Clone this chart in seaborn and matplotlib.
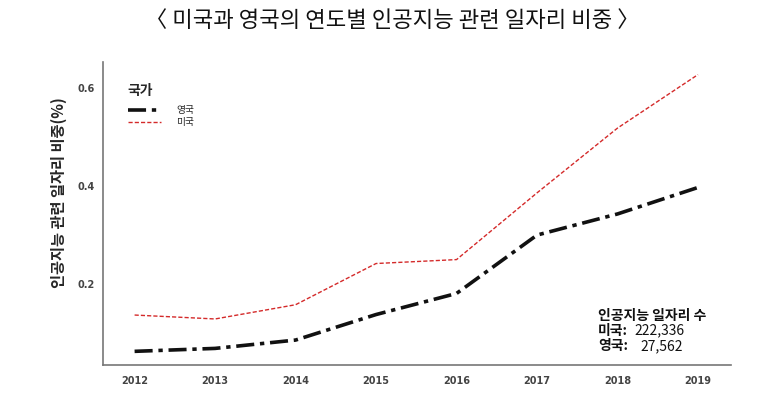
import matplotlib
matplotlib.use("Agg")
import matplotlib.pyplot as plt
from matplotlib.lines import Line2D
import numpy as np
import pandas as pd
import seaborn as sns

years = [2012, 2013, 2014, 2015, 2016, 2017, 2018, 2019]
uk_share = [0.063, 0.069, 0.086, 0.138, 0.181, 0.300, 0.343, 0.397]
us_share = [0.137, 0.129, 0.158, 0.242, 0.250, 0.386, 0.518, 0.627]
countries = ["영국", "미국"]

df = pd.DataFrame({
    "year": years * 2,
    "share": uk_share + us_share,
    "country": ["영국"] * len(years) + ["미국"] * len(years),
})

sns.set_theme(style="white")
plt.rcParams['font.family'] = ['Noto Sans CJK KR', 'DejaVu Sans']

fig = plt.figure(figsize=(7.76, 3.99), dpi=100)
ax = fig.add_axes([0.133, 0.085, 0.809, 0.76])

palette = {"영국": "#111111", "미국": "#d42a2a"}
dashes = {"영국": (5, 1.6, 1.2, 1.6), "미국": (3, 1.5)}
sns.lineplot(data=df, x="year", y="share", hue="country", style="country",
             hue_order=countries, style_order=countries,
             palette=palette, dashes=dashes, ax=ax, legend=False)
lines = ax.get_lines()
lines[0].set_linewidth(2.6)
lines[1].set_linewidth(1.0)

ax.set_xlim(2011.61, 2019.41)
ax.set_ylim(0.035, 0.653)
ax.set_xticks(years)
ax.set_yticks([0.2, 0.4, 0.6])
ax.set_yticklabels(["0.2", "0.4", "0.6"])
ax.tick_params(axis="both", labelsize=7, colors="#444444", length=2, width=0.8, pad=4)
for lab in ax.get_xticklabels() + ax.get_yticklabels():
    lab.set_fontweight("bold")
    lab.set_fontfamily("DejaVu Sans")
ax.tick_params(axis="x", pad=6)

sns.despine(ax=ax)
for side in ["left", "bottom"]:
    ax.spines[side].set_color("#777777")
    ax.spines[side].set_linewidth(1.2)

ax.set_xlabel("")
ax.set_ylabel("인공지능 관련 일자리 비중(%)", fontsize=11, fontweight="bold")
ax.yaxis.set_label_coords(-0.058, 0.57)

# legend handles rebuilt from the plotted line styles
handles = [Line2D([0], [0], color=palette[c], linestyle=(0, dashes[c]),
                  linewidth=lines[i].get_linewidth()) for i, c in enumerate(countries)]
leg = ax.legend(handles, countries, title="국가", loc="upper left",
                bbox_to_anchor=(0.025, 0.955), frameon=False, fontsize=7,
                handlelength=3.4, labelspacing=0.2, handletextpad=1.6,
                alignment="left")
leg.get_title().set_fontsize(10)
leg.get_title().set_fontweight("bold")
leg._legend_box.sep = 5

ax.text(0.788, 0.15, "인공지능 일자리 수", transform=ax.transAxes,
        fontsize=10, fontweight="bold", color="#111111")
ax.text(0.788, 0.10, "미국:", transform=ax.transAxes,
        fontsize=10, fontweight="bold", color="#111111")
ax.text(0.8455, 0.10, "222,336", transform=ax.transAxes,
        fontsize=10, color="#111111")
ax.text(0.788, 0.05, "영국:", transform=ax.transAxes,
        fontsize=10, fontweight="bold", color="#111111")
ax.text(0.855, 0.05, "27,562", transform=ax.transAxes,
        fontsize=10, color="#111111")

fig.text(0.505, 0.948, "〈 미국과 영국의 연도별 인공지능 관련 일자리 비중 〉",
         ha="center", va="center", fontsize=16, color="#111111")

fig.savefig("out.png", dpi=100)
